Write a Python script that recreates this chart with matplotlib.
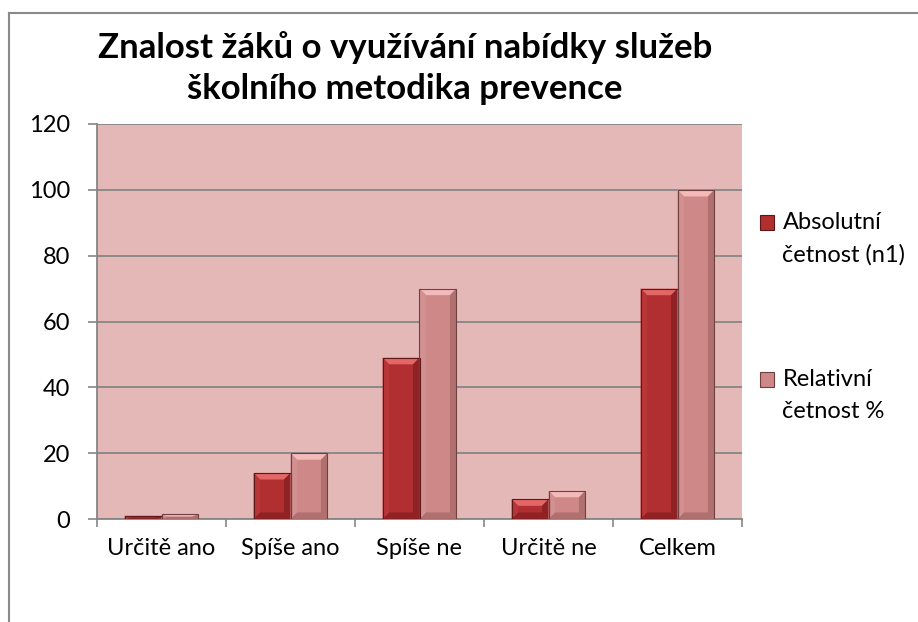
import matplotlib
matplotlib.use("Agg")
import matplotlib.pyplot as plt
from matplotlib.patches import Polygon, Patch, Rectangle
from matplotlib.lines import Line2D
from matplotlib.legend_handler import HandlerBase
import numpy as np

# Data
categories = ["Určitě ano", "Spíše ano", "Spíše ne", "Určitě ne", "Celkem"]
absolutni = [1, 14, 49, 6, 70]
relativni = [1.4, 20, 70, 8.6, 100]
series_labels = ["Absolutní\nčetnost (n1)", "Relativní\nčetnost %"]

plt.rcParams['font.family'] = ['Lato', 'DejaVu Sans']

W, H = 918, 622
fig = plt.figure(figsize=(W / 100, H / 100), dpi=100)
ax = fig.add_axes([97 / W, 1 - 519 / H, (742 - 97) / W, (519 - 124) / H])
ax.set_facecolor('#E5B8B8')

x = np.arange(len(categories))
bw = 0.286

styles = [
    dict(face='#B22F31', light='#E36767', side_l='#B93638', dark='#8E2224', edge='#5E1616'),
    dict(face='#CE8888', light='#F3BABA', side_l='#D29090', dark='#B07070', edge='#6E4040'),
]


def bevel(ax, rect, st):
    # fake Excel bevel: light top, darker right/bottom
    x0, w, h = rect.get_x(), rect.get_width(), rect.get_height()
    bx, by = 0.05, 2.0
    if h < 2 * by:
        by = h / 2
    x1 = x0 + w
    polys = [
        ([(x0, h), (x1, h), (x1 - bx, h - by), (x0 + bx, h - by)], st['light']),
        ([(x1, h), (x1, 0), (x1 - bx, by), (x1 - bx, h - by)], st['dark']),
        ([(x0, 0), (x1, 0), (x1 - bx, by), (x0 + bx, by)], st['dark']),
        ([(x0, h), (x0, 0), (x0 + bx, by), (x0 + bx, h - by)], st['side_l']),
    ]
    for pts, c in polys:
        ax.add_patch(Polygon(pts, closed=True, facecolor=c, edgecolor='none', zorder=3))
    ax.add_patch(Polygon([(x0, 0), (x0, h), (x1, h), (x1, 0)], closed=True,
                         facecolor='none', edgecolor=st['edge'], lw=0.8, zorder=4))


for vals, off, st in [(absolutni, -bw / 2, styles[0]), (relativni, bw / 2, styles[1])]:
    bars = ax.bar(x + off, vals, bw, color=st['face'], zorder=2)
    for r in bars:
        bevel(ax, r, st)

ax.set_xlim(-0.5, len(categories) - 0.5)
ax.set_ylim(0, 120)
ax.set_yticks(np.arange(0, 121, 20))
ax.set_xticks(x)
ax.set_xticklabels(categories)
ax.set_xticks(np.arange(-0.5, len(categories)), minor=True)
ax.tick_params(axis='x', which='major', length=0, pad=14, labelsize=17)
ax.tick_params(axis='x', which='minor', length=6, width=1.2, color='#868686')
ax.tick_params(axis='y', length=6.5, width=1.2, color='#868686', pad=13, labelsize=17)
ax.grid(axis='y', color='#868686', lw=1.3, zorder=1)
ax.set_axisbelow(True)
for s in ['top', 'right']:
    ax.spines[s].set_visible(False)
for s in ['left', 'bottom']:
    ax.spines[s].set_color('#868686')
    ax.spines[s].set_linewidth(1.3)

fig.text(405 / W, 1 - 68 / H, "Znalost žáků o využívání nabídky služeb\nškolního metodika prevence",
         ha='center', va='center', fontsize=25, fontweight='bold', linespacing=1.38)


class TopSquare(HandlerBase):
    # put the square next to the first line of a two-line label
    def create_artists(self, legend, orig_handle, xdescent, ydescent, width, height, fontsize, trans):
        r = Rectangle((-xdescent, -ydescent + 0.7 * fontsize), width, height,
                      facecolor=orig_handle.get_facecolor(), edgecolor=orig_handle.get_edgecolor(),
                      lw=0.8, transform=trans)
        return [r]


handles = [Patch(facecolor=styles[0]['face'], edgecolor=styles[0]['edge']),
           Patch(facecolor=styles[1]['face'], edgecolor=styles[1]['edge'])]
leg = fig.legend(handles, series_labels, loc='upper left', bbox_to_anchor=(760 / W, 1 - 212 / H),
                 frameon=False, fontsize=17, labelspacing=4.4, handlelength=0.6, handleheight=0.6,
                 handletextpad=0.35, borderaxespad=0, borderpad=0,
                 handler_map={Patch: TopSquare()})
for t in leg.get_texts():
    t.set_linespacing(1.62)

# chart frame (cut off on right and bottom)
fig.add_artist(Line2D([9 / W, 9 / W], [0, 1 - 13 / H], color='#8a8a8a', lw=1.5))
fig.add_artist(Line2D([9 / W, 1], [1 - 13 / H, 1 - 13 / H], color='#8a8a8a', lw=1.5))

fig.savefig('out.png', dpi=100)
